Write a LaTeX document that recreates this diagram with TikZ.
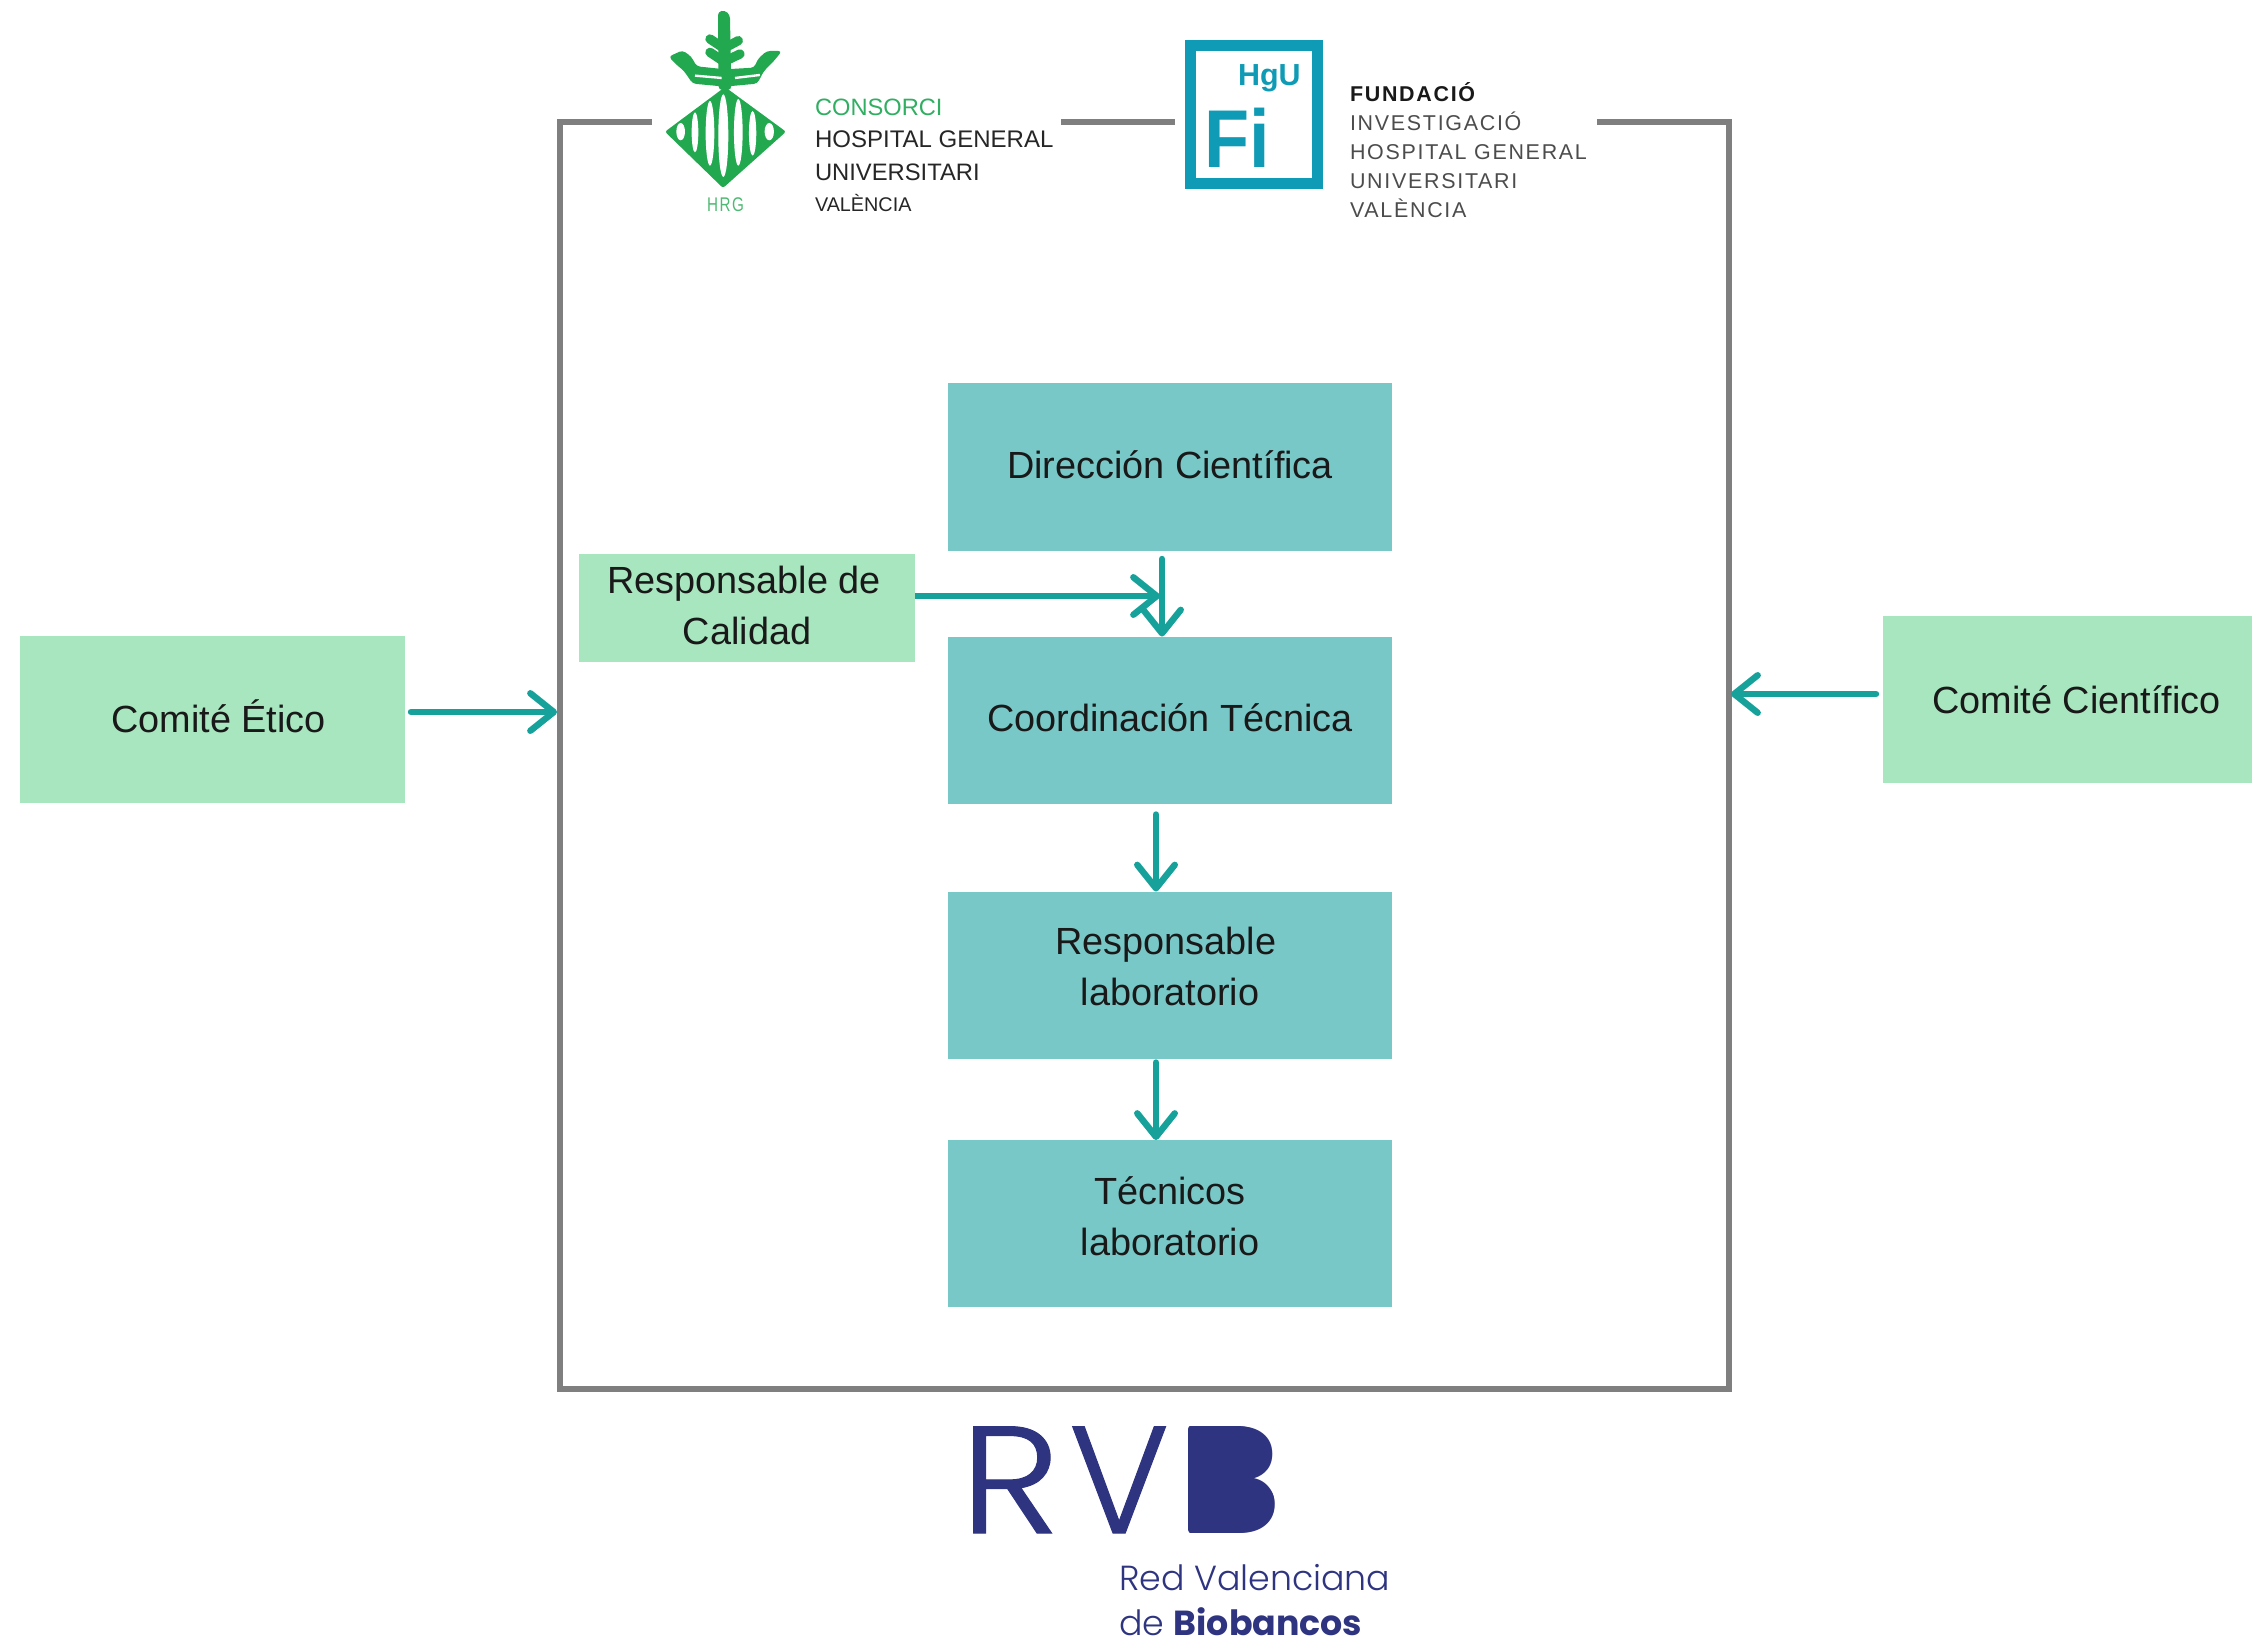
\documentclass[tikz,border=0pt]{standalone}
\usepackage{fontspec}
\usetikzlibrary{arrows.meta,calc}
\setmainfont{Liberation Sans}
\newfontfamily\popl{Poppins Light}
\newfontfamily\poplb[FakeBold=0.7]{Poppins Light}
\newfontfamily\popr{Poppins}
\newfontfamily\fundf[LetterSpace=8]{Liberation Sans}
\newfontfamily\hrgf[LetterSpace=10]{Liberation Sans}
\definecolor{tealbox}{HTML}{79C8C8}
\definecolor{greenbox}{HTML}{A8E6BF}
\definecolor{arrowc}{HTML}{16A29A}
\definecolor{framec}{HTML}{7F7F7F}
\definecolor{hgreen}{HTML}{22A84F}
\definecolor{cgreen}{HTML}{30AE62}
\definecolor{fiblue}{HTML}{0F9BB5}
\definecolor{rvbc}{HTML}{2E3480}
\newcommand{\dn}[1]{\rule[-#1pt]{0pt}{#1pt}}
\tikzset{
  bx/.style n args={3}{fill=#1,draw=none,inner sep=0,outer sep=0,align=center,text=black!90,
    minimum width=#2*0.03cm,minimum height=#3*0.03cm,
    font=\fontsize{32.3}{43.5}\selectfont},
  arr/.style={draw=arrowc,line width=5.5pt,line cap=round,
    -{Straight Barb[length=20pt,width=32pt,round]}},
  framel/.style={draw=framec,line width=4.5pt},
  lg/.style={anchor=base west,inner sep=0,outer sep=0},
  tight/.style={text depth=0pt,text height=0.72em},
}
\begin{document}
\begin{tikzpicture}[x=0.03cm,y=-0.03cm]
\useasboundingbox (0,0) rectangle (2252,1638);
% boxes
\node[bx={tealbox}{444}{168}] (dir) at (1170,467) {Dirección Científica\dn{4.8}};
\node[bx={tealbox}{444}{167}] (coord) at (1170,720) {Coordinación Técnica\dn{4.8}};
\node[bx={tealbox}{444}{167}] (resp) at (1170,975) {Responsable\hspace*{0.26cm}\\laboratorio\dn{14.8}};
\node[bx={tealbox}{444}{167}] (tec) at (1170,1223.5) {Técnicos\\laboratorio\dn{12.2}};
\node[bx={greenbox}{336}{108}] (cal) at (747,608) {Responsable de\hspace*{0.17cm}\\Calidad\dn{4.8}};
\node[bx={greenbox}{385}{167}] (eti) at (212.5,719.5) {\hspace*{0.36cm}Comité Ético\dn{6.5}};
\node[bx={greenbox}{369}{167}] (cie) at (2067.5,699.5) {\hspace*{0.54cm}Comité Científico};
% frame
\node[minimum width=1169*0.03cm,minimum height=1267*0.03cm,inner sep=0,outer sep=0] (frame) at (1144.5,755.5) {};
\coordinate (g1) at (652,122);
\coordinate (g2) at (1061,122);
\coordinate (g3) at (1175,122);
\coordinate (g4) at (1597,122);
\draw[framel] (g1) -- (frame.north west) -- (frame.south west) -- (frame.south east) -- (frame.north east) -- (g4);
\draw[framel] (g2) -- (g3);
% connectors
\coordinate (qc) at (1160,596);
\coordinate (ye) at (0,712);
\coordinate (yc) at (0,694);
\draw[arr] ([xshift=-0.24cm,yshift=-0.24cm]dir.south) -- ([xshift=-0.24cm]coord.north);
\draw[arr,line cap=butt] (cal.east |- qc) -- (qc);
\draw[arr] ([xshift=-0.42cm,yshift=-0.33cm]coord.south) -- ([xshift=-0.42cm]resp.north);
\draw[arr] ([xshift=-0.42cm,yshift=-0.12cm]resp.south) -- ([xshift=-0.42cm]tec.north);
\draw[arr] ([xshift=0.18cm]eti.east |- ye) -- ([xshift=-0.09cm]frame.west |- ye);
\draw[arr] ([xshift=-0.21cm]cie.west |- yc) -- ([xshift=0.06cm]frame.east |- yc);
% HGU emblem, diamond
\fill[hgreen,rounded corners=2pt] (665,131.7) -- (725,87) -- (786,131.7) -- (723,188) -- cycle;
\begin{scope}[shift={(660,80)},x=0.01cm,y=-0.01cm]
\fill[white] (62,155) ellipse [x radius=13,y radius=26];
\fill[white] (105,157) ellipse [x radius=10,y radius=60];
\fill[white] (150,160) ellipse [x radius=13,y radius=97];
\fill[white] (190,167) ellipse [x radius=15,y radius=124];
\fill[white] (235,157) ellipse [x radius=13,y radius=100];
\fill[white] (278,160) ellipse [x radius=11,y radius=67];
\fill[white] (328,155) ellipse [x radius=14,y radius=26];
\end{scope}
% HGU emblem, plant
\begin{scope}[shift={(660,5)},x=0.01cm,y=-0.01cm]
\fill[hgreen,rounded corners=3pt] (176,255) -- (174,20) -- (195,16) -- (210,30) -- (214,255) -- cycle;
\draw[hgreen,line width=8pt,line cap=round] (150,102) -- (192,130) -- (235,107);
\draw[hgreen,line width=8pt,line cap=round] (150,142) -- (192,170) -- (240,147);
\fill[hgreen,rounded corners=3pt] (26,155) -- (68,136) -- (94,155) -- (110,184) -- (195,193) -- (195,245) -- (98,236) -- (72,198) -- (48,178) -- cycle;
\fill[hgreen,rounded corners=3pt] (366,138) -- (320,138) -- (293,163) -- (283,188) -- (195,193) -- (195,245) -- (292,236) -- (312,198) -- (342,168) -- cycle;
\draw[white,line width=2pt] (105,212) -- (185,219);
\draw[white,line width=2pt] (225,219) -- (300,210);
\end{scope}
\node[lg,text=hgreen!80,font=\fontsize{13}{13}\hrgf] (hrg) at (707,211) {\scalebox{1}[1.3]{HRG}};
% HGU text
\node[lg,text=cgreen,font=\fontsize{20.2}{20}\selectfont] (h1) at (815,115) {CONSORCI};
\node[lg,text=black!85,font=\fontsize{20.5}{20}\selectfont] (h2) at (815,147) {HOSPITAL GENERAL};
\node[lg,text=black!85,font=\fontsize{20.3}{20}\selectfont] (h3) at (815,180) {UNIVERSITARI};
\node[lg,text=black!85,font=\fontsize{16.9}{20}\selectfont] (h4) at (815,211) {VALÈNCIA};
% Fundacio logo
\node[draw=fiblue,line width=9.4pt,inner sep=0,outer sep=0,minimum width=127*0.03cm,minimum height=138*0.03cm] (fi) at (1254,114) {};
\node[lg,text=fiblue,font=\bfseries\fontsize{26}{26}\selectfont] (hgu) at (1238,85) {HgU};
\node[lg,text=fiblue,font=\bfseries\fontsize{70}{70}\selectfont] (fitx) at (1204,167) {\scalebox{.9}[1]{Fi}};
\node[lg,text=black!90,font=\bfseries\fontsize{18.3}{20}\fundf] (f1) at (1350,101) {FUNDACIÓ};
\node[lg,text=black!70,font=\fontsize{18.3}{20}\fundf] (f2) at (1350,130.5) {INVESTIGACIÓ};
\node[lg,text=black!70,font=\fontsize{18.3}{20}\fundf] (f3) at (1350,159.5) {HOSPITAL GENERAL};
\node[lg,text=black!70,font=\fontsize{18.3}{20}\fundf] (f4) at (1350,188.5) {UNIVERSITARI};
\node[lg,text=black!70,font=\fontsize{18.3}{20}\fundf] (f5) at (1350,217.5) {VALÈNCIA};
% RVB logo
\node[lg,text=rvbc,font=\fontsize{130}{130}\poplb] (rr) at (960,1533) {\scalebox{1.12}[1]{R}};
\node[lg,text=rvbc,font=\fontsize{130}{130}\poplb] (vv) at (1069,1533) {\scalebox{1.0}[1]{V}};
\node[lg,text=rvbc,font=\bfseries\fontsize{130}{130}\popr] (bb) at (1180,1533) {B};
\begin{scope}[shift={(940,1400)},x=0.01cm,y=-0.01cm]
\fill[rvbc,rounded corners=2pt] (745,78) -- (880,78) .. controls (960,78) and (988,115) .. (988,160) .. controls (988,195) and (965,225) .. (935,235) .. controls (975,250) and (1003,270) .. (1003,310) .. controls (1003,365) and (960,398) .. (890,398) -- (745,398) -- cycle;
\end{scope}
\node[lg,tight,text=rvbc,font=\fontsize{29.7}{29}\popl] (rv1) at (1119,1590) {Red Valenciana};
\node[lg,tight,text=rvbc,font=\fontsize{29.7}{29}\popl] (rv2) at (1119,1635) {de {\popr\bfseries Biobancos}};
\end{tikzpicture}
\end{document}
